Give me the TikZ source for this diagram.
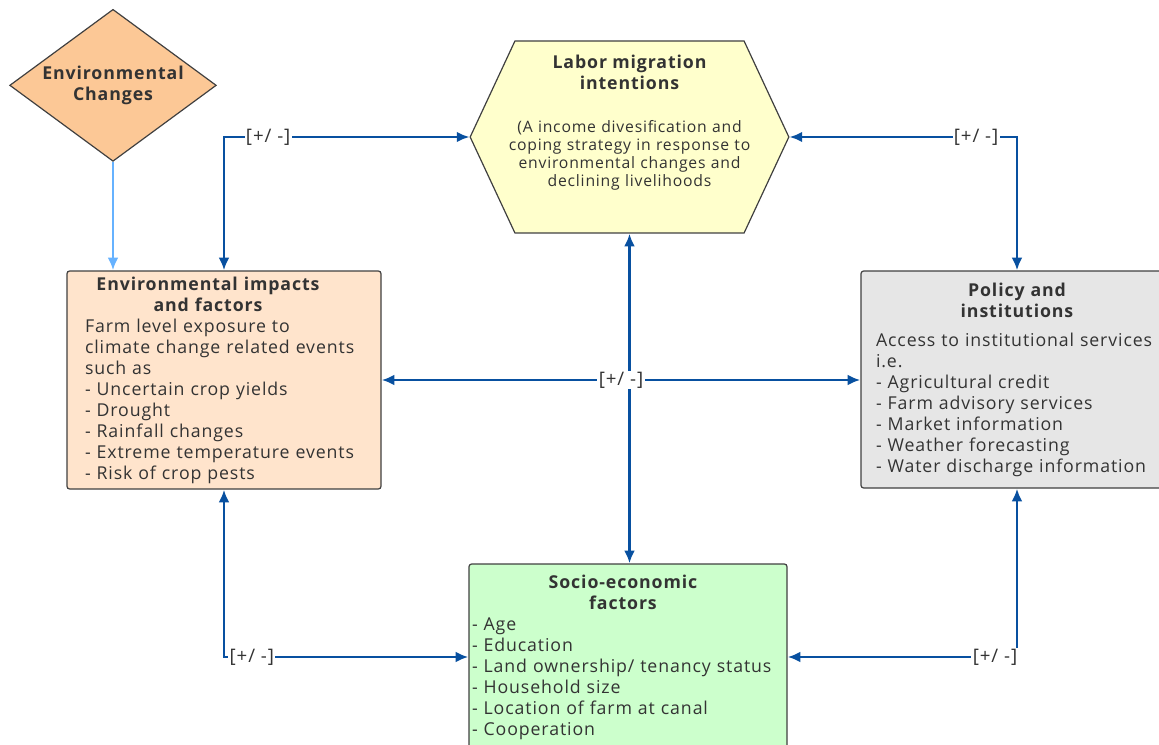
\documentclass[tikz,border=0pt]{standalone}
\usepackage{fontspec}
\setmainfont{Open Sans}[LetterSpace=5]
\usepackage{xcolor}
\usetikzlibrary{shapes.geometric, shapes.symbols, arrows.meta, positioning}

\definecolor{linkblue}{RGB}{8,80,160}
\definecolor{skyblue}{RGB}{102,178,255}
\definecolor{textgray}{RGB}{51,51,51}
\definecolor{edgegray}{RGB}{64,64,64}
\definecolor{envorange}{RGB}{252,200,150}
\definecolor{envpeach}{RGB}{255,228,204}
\definecolor{hexyellow}{RGB}{255,255,204}
\definecolor{socgreen}{RGB}{204,255,204}
\definecolor{polgray}{RGB}{230,230,230}

\begin{document}
\begin{tikzpicture}[
    x=0.75pt, y=-0.75pt,
    every node/.style={text=textgray},
    decision/.style={diamond, draw=edgegray, line width=0.9pt, fill=envorange, aspect=1.36, inner sep=0pt, minimum width=155pt, minimum height=114pt, align=center, font=\bfseries\fontsize{13.3}{15.75}\selectfont},
    hexa/.style={signal, signal to=west and east, signal pointer angle=130, draw=edgegray, line width=0.9pt, fill=hexyellow, minimum width=239pt, minimum height=144pt, inner sep=0pt},
    hextext/.style={text width=210pt, align=center, font=\fontsize{11.8}{13.7}\selectfont},
    block/.style={rectangle, rounded corners=2pt, draw=edgegray, line width=0.9pt, align=left, inner xsep=0pt, font=\fontsize{13.3}{15.75}\selectfont},
    pmlabel/.style={fill=white, inner sep=1pt, font=\fontsize{14}{15}\selectfont},
    link/.style={{Latex[length=9.5pt,width=8pt]}-{Latex[length=9.5pt,width=8pt]}, linkblue, line width=2.1pt},
    feed/.style={-{Latex[length=9.5pt,width=8pt]}, skyblue, line width=2.1pt}
]
\useasboundingbox (0,0) rectangle (1159,745);

% shapes
\node[decision, yshift=-1pt] (envchg) at (113,84) {Environmental\\Changes};
\node[hexa] (labor) at (629.5,137) {};
\node[hextext] (labortext) at (629.5,123) {{\bfseries\fontsize{13.3}{15.75}\selectfont Labor migration\\intentions\par}\vspace{18pt}(A income divesification and\\coping strategy in response to\\environmental changes and\\declining livelihoods};
\node[block, fill=envpeach, text width=208.5pt, minimum width=235.5pt, minimum height=163.5pt] (envimp) at (224,380) {{\centering\rightskip=24pt plus 1fil\bfseries Environmental impacts\\and factors\par}Farm level exposure to\\climate change related events\\such as\\- Uncertain crop yields\\- Drought\\- Rainfall changes\\- Extreme temperature events\\- Risk of crop pests};
\node[block, fill=polgray, text width=211.5pt, minimum width=234pt, minimum height=162.75pt] (policy) at (1017,379.5) {{\centering\bfseries Policy and\\institutions\par}\vspace{6pt}Access to institutional services\\i.e.\\- Agricultural credit\\- Farm advisory services\\- Market information\\- Weather forecasting\\- Water discharge information};
\node[block, fill=socgreen, text width=234pt, minimum width=238.5pt, minimum height=139.5pt] (socio) at (628,657) {{\centering\rightskip=7.5pt plus 1fil\bfseries Socio-economic\\factors\par}- Age\\- Education\\- Land ownership/ tenancy status\\- Household size\\- Location of farm at canal\\- Cooperation};

% connectors
\draw[feed] (envchg.south) -- (envchg.south |- envimp.north);
\draw[link] (labor.west) -| node[pmlabel, pos=0.41] (pmtl) {[+/ -]} (envimp.north);
\draw[link] (labor.east) -| node[pmlabel, pos=0.41] (pmtr) {[+/ -]} (policy.north);
\draw[link] (labor.south) -- (labor.south |- socio.north);
\draw[link] (envimp.east) -- node[pmlabel] (pmmid) {[+/ -]} (envimp.east -| policy.west);
\draw[link] (envimp.south) |- node[pmlabel, pos=0.557] (pmbl) {[+/ -]} (socio.west);
\draw[link] (socio.east) -| node[pmlabel, pos=0.452] (pmbr) {[+/ -]} (policy.south);
\end{tikzpicture}
\end{document}
